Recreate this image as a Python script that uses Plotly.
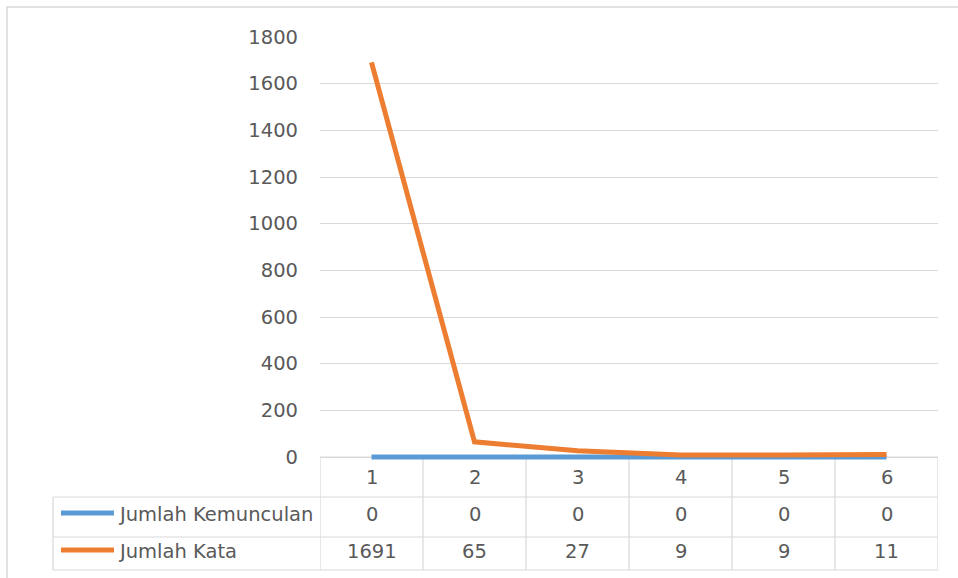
import plotly.graph_objects as go

categories = ["1", "2", "3", "4", "5", "6"]
series_names = ["Jumlah Kemunculan", "Jumlah Kata"]
kemunculan = [0, 0, 0, 0, 0, 0]
kata = [1691, 65, 27, 9, 9, 11]
y_ticks = [0, 200, 400, 600, 800, 1000, 1200, 1400, 1600, 1800]
colors = ["#5B9BD5", "#ED7D31"]

W, H = 958, 578
FONT = "DejaVu Sans"
FS = 19.5
TXT = "#595959"
GRID = "#d9d9d9"

# plot area pixel geometry
X_LEFT, X_RIGHT = 320, 938
Y_TOP, Y_ZERO = 37, 457
PAD = 6  # extra room below zero so the thick zero-valued line is not clipped
Y_MAX = 1800
y_min = -Y_MAX * PAD / (Y_ZERO - Y_TOP)


def px(x):
    return x / W


def py(y):
    return 1 - y / H


xs = list(range(len(categories)))
fig = go.Figure()
for name, vals, col in zip(series_names, [kemunculan, kata], colors):
    fig.add_trace(go.Scatter(x=xs, y=vals, mode="lines", name=name,
                             line=dict(color=col, width=5), showlegend=False,
                             hoverinfo="skip"))

shapes = []
# outer chart border
shapes.append(dict(type="rect", xref="paper", yref="paper", x0=px(7), x1=px(975),
                   y0=py(595), y1=py(7), line=dict(color=GRID, width=1.5), layer="below"))
# table vertical lines at category boundaries
n = len(categories)
for i in range(n + 1):
    xb = i - 0.5
    shapes.append(dict(type="line", xref="x", yref="paper", x0=xb, x1=xb,
                       y0=py(Y_ZERO), y1=py(570), line=dict(color=GRID, width=1.2),
                       layer="below"))
# table horizontal lines
shapes.append(dict(type="line", xref="paper", yref="paper", x0=px(X_LEFT), x1=px(X_RIGHT),
                   y0=py(Y_ZERO), y1=py(Y_ZERO), line=dict(color=GRID, width=1.2),
                   layer="below"))
for yy in [497, 537, 570]:
    shapes.append(dict(type="line", xref="paper", yref="paper", x0=px(53), x1=px(X_RIGHT),
                       y0=py(yy), y1=py(yy), line=dict(color=GRID, width=1.2), layer="below"))
shapes.append(dict(type="line", xref="paper", yref="paper", x0=px(53), x1=px(53),
                   y0=py(497), y1=py(570), line=dict(color=GRID, width=1.2), layer="below"))

annotations = []
font = dict(family=FONT, size=FS, color=TXT)
for i, c in enumerate(categories):
    annotations.append(dict(x=i, xref="x", y=py(477), yref="paper", text=c,
                            yanchor="middle", xanchor="center", showarrow=False, font=font))
row_y = [514, 551]
for name, vals, col, ry in zip(series_names, [kemunculan, kata], colors, row_y):
    shapes.append(dict(type="line", xref="paper", yref="paper", x0=px(61), x1=px(114),
                       y0=py(ry - 1), y1=py(ry - 1), line=dict(color=col, width=5)))
    annotations.append(dict(x=px(116), xref="paper", y=py(ry), yref="paper", text=name,
                            xanchor="left", yanchor="middle", showarrow=False, font=font))
    for i, v in enumerate(vals):
        annotations.append(dict(x=i, xref="x", y=py(ry), yref="paper", text=str(v),
                                xanchor="center", yanchor="middle", showarrow=False, font=font))

fig.update_layout(
    template="none",
    width=W, height=H,
    margin=dict(l=0, r=0, t=0, b=0, pad=0),
    paper_bgcolor="white", plot_bgcolor="rgba(0,0,0,0)",
    shapes=shapes, annotations=annotations,
    xaxis=dict(domain=[px(X_LEFT), px(X_RIGHT)], range=[-0.5, n - 0.5], showticklabels=False,
               showgrid=False, zeroline=False, showline=False, ticks="",
               automargin=False, fixedrange=True),
    yaxis=dict(domain=[py(Y_ZERO + PAD), py(Y_TOP)], range=[y_min, Y_MAX], tickvals=y_ticks,
               showgrid=True, gridcolor=GRID, gridwidth=1.2, zeroline=False,
               showline=False, ticks="", ticklabelstandoff=21, automargin=False,
               tickfont=font, fixedrange=True),
)

fig.write_html("out.html", config={"displayModeBar": False},
               post_script="document.body.style.margin='0';document.body.style.overflow='hidden';")
